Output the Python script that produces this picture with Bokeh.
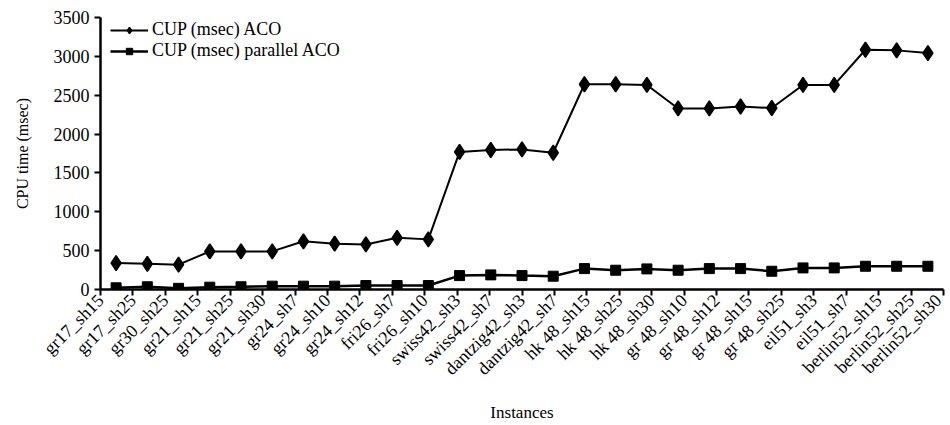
import math
from bokeh.plotting import figure
from bokeh.models import (ColumnDataSource, FixedTicker, CustomJSTickFormatter,
                          Range1d, Legend, LegendItem)
from bokeh.embed import file_html
from bokeh.resources import INLINE

categories = ["gr17_sh15", "gr17_sh25", "gr30_sh25", "gr21_sh15", "gr21_sh25",
              "gr21_sh30", "gr24_sh7", "gr24_sh10", "gr24_sh12", "fri26_sh7",
              "fri26_sh10", "swiss42_sh3", "swiss42_sh7", "dantzig42_sh3",
              "dantzig42_sh7", "hk 48_sh15", "hk 48_sh25", "hk 48_sh30",
              "gr 48_sh10", "gr 48_sh12", "gr 48_sh15", "gr 48_sh25",
              "eil51_sh3", "eil51_sh7", "berlin52_sh15", "berlin52_sh25",
              "berlin52_sh30"]

aco = [340, 330, 320, 490, 490, 490, 620, 590, 580, 665, 645,
       1770, 1795, 1803, 1760, 2641, 2641, 2632, 2330, 2330, 2355, 2335,
       2632, 2632, 3085, 3077, 3042]

parallel_aco = [22, 35, 15, 30, 35, 43, 43, 43, 51, 51, 51,
                179, 188, 179, 171, 269, 248, 265, 248, 269, 269, 235,
                278, 278, 299, 299, 299]

y_ticks = [0, 500, 1000, 1500, 2000, 2500, 3000, 3500]

FONT = "Liberation Serif"

n = len(categories)
xs = [i + 0.5 for i in range(n)]
src = ColumnDataSource(dict(x=xs, aco=aco, par=parallel_aco))

p = figure(width=945, height=424, output_backend="svg", toolbar_location=None,
           x_range=Range1d(0, n), y_range=Range1d(0, 3500),
           min_border_left=100, min_border_right=2, min_border_top=17,
           min_border_bottom=134)
p.outline_line_color = None
p.xgrid.visible = False
p.ygrid.visible = False

l1 = p.line("x", "aco", source=src, line_color="black", line_width=2)
m1 = p.scatter("x", "aco", source=src, marker="diamond",
               size=15, fill_color="black", line_color="black", line_width=1.5)
l2 = p.line("x", "par", source=src, line_color="black", line_width=2.5)
m2 = p.scatter("x", "par", source=src, marker="square", size=10,
               fill_color="black", line_color="black")

# axes
p.yaxis.ticker = FixedTicker(ticks=y_ticks)
p.yaxis.minor_tick_line_color = None
p.yaxis.major_tick_out = 6
p.yaxis.major_tick_in = 0
p.yaxis.major_tick_line_width = 2
p.yaxis.axis_line_width = 2.5
p.yaxis.major_label_text_font = FONT
p.yaxis.major_label_text_font_size = "18px"
p.yaxis.major_label_text_color = "black"
p.yaxis.major_label_standoff = 5
p.yaxis.axis_label = "CPU time (msec)"
p.yaxis.axis_label_text_font = FONT
p.yaxis.axis_label_text_font_size = "16px"
p.yaxis.axis_label_text_font_style = "normal"
p.yaxis.axis_label_text_color = "black"
p.yaxis.axis_label_standoff = 20

n_ticks = n - 1
p.xaxis.ticker = FixedTicker(ticks=[k * n / n_ticks for k in range(n_ticks + 1)])
p.xaxis.formatter = CustomJSTickFormatter(
    args=dict(labels=categories, nt=n_ticks, n=n),
    code="const k = Math.round(tick * nt / n); return labels[k] || '';")
p.xaxis.minor_tick_line_color = None
p.xaxis.major_tick_out = 6
p.xaxis.major_tick_in = 0
p.xaxis.major_tick_line_width = 2
p.xaxis.axis_line_width = 2.5
p.xaxis.major_label_orientation = math.pi / 4
p.xaxis.major_label_text_font = FONT
p.xaxis.major_label_text_font_size = "18px"
p.xaxis.major_label_text_color = "black"
p.xaxis.major_label_standoff = 2
p.xaxis.axis_label = "Instances"
p.xaxis.axis_label_text_font = FONT
p.xaxis.axis_label_text_font_size = "17px"
p.xaxis.axis_label_text_font_style = "normal"
p.xaxis.axis_label_text_color = "black"
p.xaxis.axis_label_standoff = 14

legend = Legend(items=[LegendItem(label="CUP (msec) ACO", renderers=[l1, m1]),
                       LegendItem(label="CUP (msec) parallel ACO", renderers=[l2, m2])],
                location=(10, 228), margin=0, padding=0, spacing=-3,
                glyph_width=38, glyph_height=16, label_standoff=4,
                label_text_font=FONT, label_text_font_size="18px",
                label_text_color="black", border_line_color=None,
                background_fill_alpha=0)
p.add_layout(legend)

open("out.html", "w").write(file_html(p, INLINE))
